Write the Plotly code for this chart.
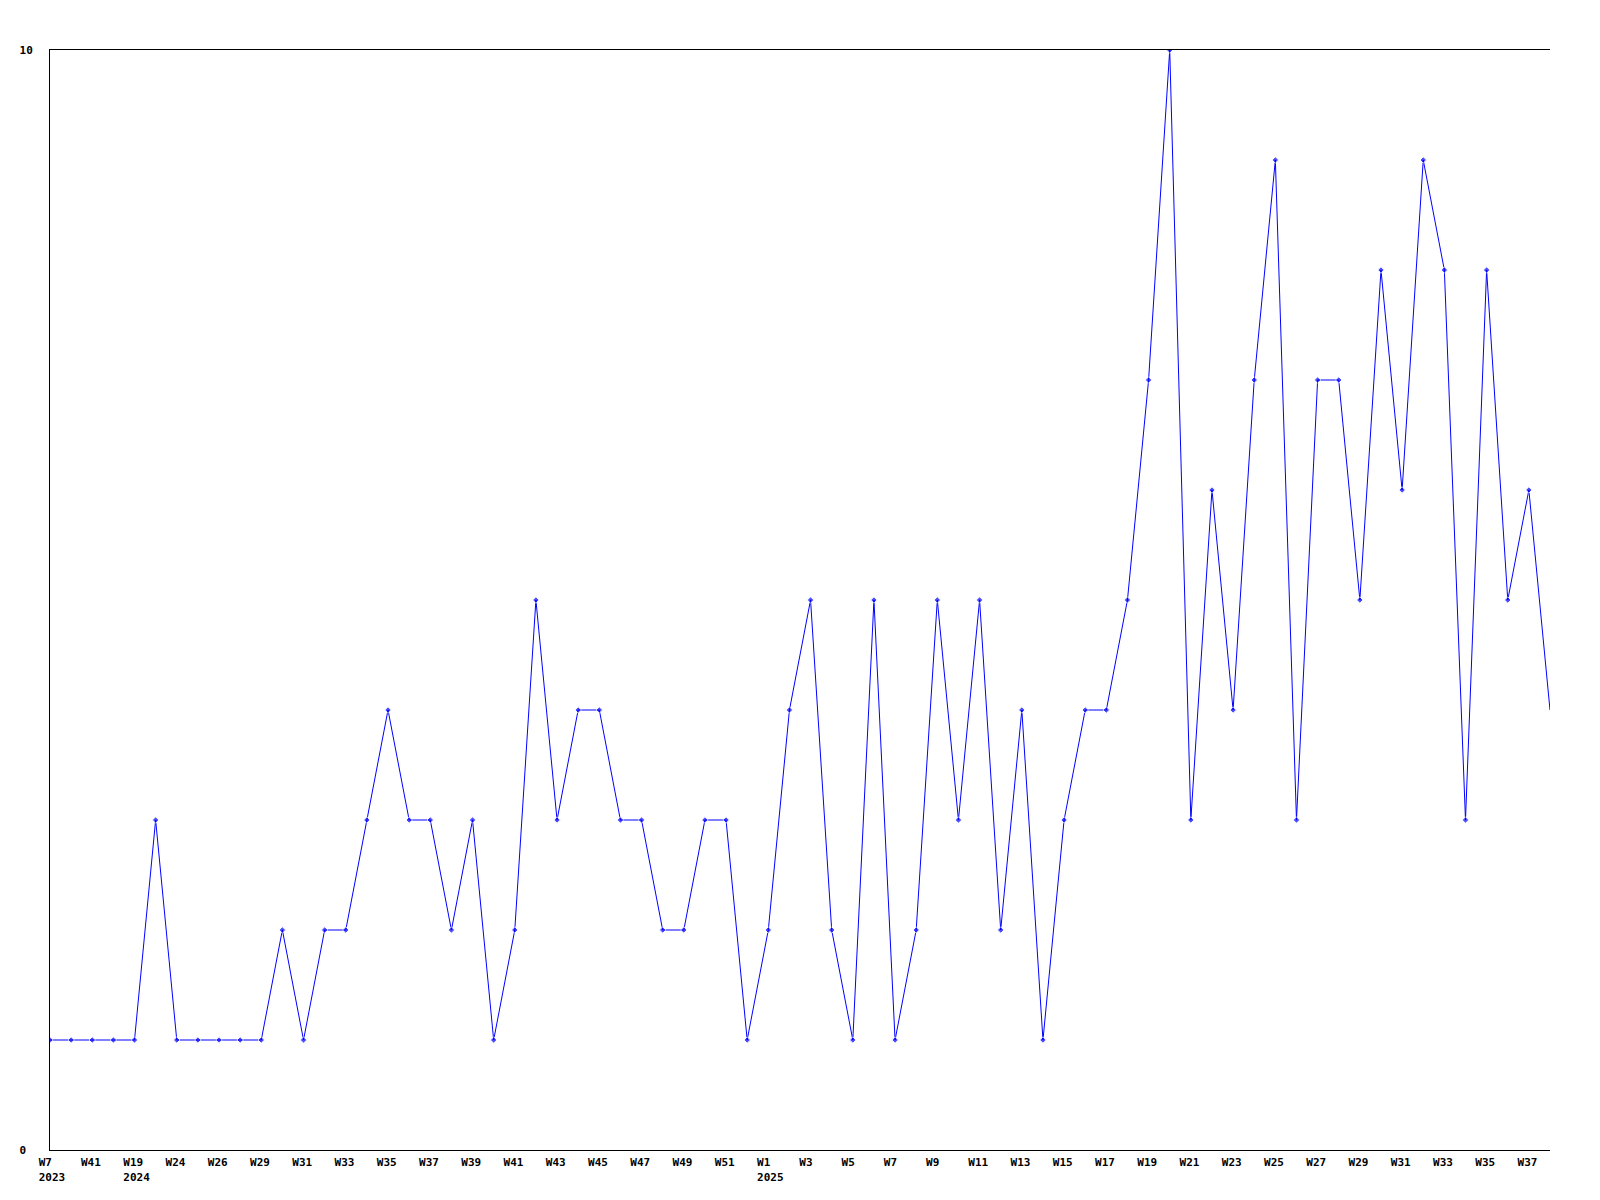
import plotly.graph_objects as go

NB = "\u00a0"

weeks = (["2023-W7", "2023-W23", "2023-W41", "2023-W48",
          "2024-W19", "2024-W22", "2024-W24", "2024-W25", "2024-W26", "2024-W28"]
         + [f"2024-W{w}" for w in range(29, 53)]
         + [f"2025-W{w}" for w in range(1, 39)])

values = [1, 1, 1, 1, 1, 3, 1, 1, 1, 1,
          1, 2, 1, 2, 2, 3, 4, 3, 3, 2,
          3, 1, 2, 5, 3, 4, 4, 3, 3, 2,
          2, 3, 3, 1, 2, 4, 5, 2, 1, 5,
          1, 2, 5, 3, 5, 2, 4, 1, 3, 4,
          4, 5, 7, 10, 3, 6, 4, 7, 9, 3,
          7, 7, 5, 8, 6, 9, 8, 3, 8, 5,
          6, 4]

y_tick_vals = [0, 10]
y_tick_text = ["0" + NB, "10"]


def make_label(i):
    year, wk = weeks[i].split("-")
    prev_year = weeks[i - 2].split("-")[0] if i >= 2 else None
    top = wk.ljust(4, NB)
    if i == 0 or year != prev_year:
        return top + "<br>" + year
    return top


x_idx = list(range(len(weeks)))
tick_vals = x_idx[::2]
tick_text = [make_label(i) for i in tick_vals]

marker_sizes = [5] * (len(values) - 1) + [0]

fig = go.Figure()
fig.add_trace(go.Scatter(
    x=x_idx, y=values, mode="lines+markers",
    line=dict(color="#0000FF", width=1),
    marker=dict(symbol="diamond", size=marker_sizes, color="#0000FF"),
    hovertext=weeks, hoverinfo="text+y",
))

font = dict(family="DejaVu Sans Mono", size=11, color="black", weight="bold")

fig.update_layout(
    width=1584, height=1184,
    margin=dict(l=42, r=42, t=42, b=42),
    paper_bgcolor="white", plot_bgcolor="white",
    showlegend=False,
    font=font,
    xaxis=dict(
        range=[0, len(weeks) - 1],
        tickmode="array", tickvals=tick_vals, ticktext=tick_text,
        showgrid=False, zeroline=False, automargin=False,
        showline=True, linecolor="black", linewidth=1, mirror=True,
        ticks="", tickfont=font, tickangle=0,
        ticklabelshift=2, ticklabelstandoff=2,
    ),
    yaxis=dict(
        range=[0, 10],
        tickmode="array", tickvals=y_tick_vals, ticktext=y_tick_text,
        showgrid=False, zeroline=False, automargin=False,
        showline=True, linecolor="black", linewidth=1, mirror=False,
        ticks="", tickfont=font,
        ticklabelstandoff=14,
    ),
)

fig.write_html("out.html")
